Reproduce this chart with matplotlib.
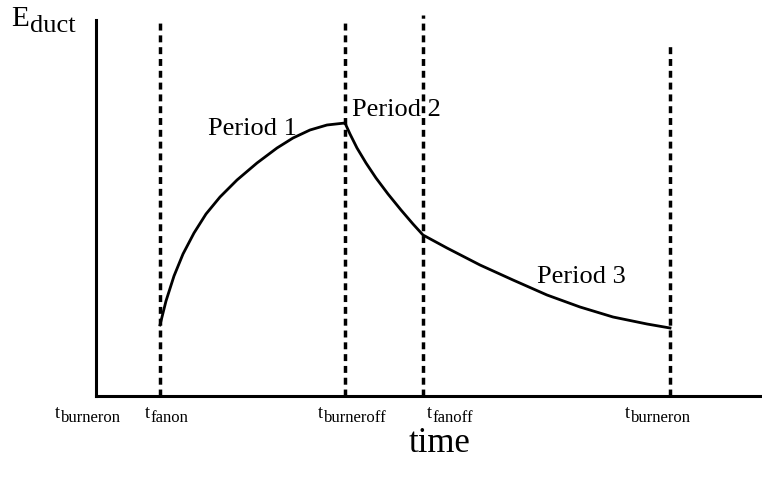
import matplotlib.pyplot as plt
from matplotlib.transforms import offset_copy

plt.rcParams['font.family'] = ['Liberation Serif', 'DejaVu Serif']

# event times (arbitrary units along the time axis)
event_times = [64, 249, 327, 574]
event_tops = [376, 376, 381, 351]

# duct energy
p1_t = [64, 70, 78, 87, 98, 110, 124, 141, 161, 181, 197, 214, 231, 249]
p1_e = [71, 95, 120, 142, 163, 182, 199, 216, 233, 248, 258, 266, 271, 273]
p2_t = [249, 254, 261, 270, 280, 292, 305, 317, 327]
p2_e = [273, 262, 248, 233, 218, 202, 186, 172, 161]
p3_t = [327, 351, 384, 417, 451, 484, 517, 551, 574]
p3_e = [161, 148, 131, 116, 101, 89, 79, 72, 68]

# time labels under the axis: left edge (time units) and subscript
label_x = [-41, 49, 222, 331, 529]
label_sub = ['burneron', 'fanon', 'burneroff', 'fanoff', 'burneron']

W, H = 762, 478
fig = plt.figure(figsize=(W / 100, H / 100), dpi=100)
ax = fig.add_axes([96 / W, 82 / H, 666 / W, 376 / H])
ax.set_xlim(0, 666)
ax.set_ylim(0, 376)
ax.set_xticks([])
ax.set_yticks([])
for s in ['top', 'right']:
    ax.spines[s].set_visible(False)
for s in ['left', 'bottom']:
    ax.spines[s].set_linewidth(2.2)

for t, top in zip(event_times, event_tops):
    ax.plot([t, t], [0, top], color='black', lw=2.5, ls=(0, (2.0, 1.4)),
            clip_on=False)

curve_t = p1_t + p2_t[1:] + p3_t[1:]
curve_e = p1_e + p2_e[1:] + p3_e[1:]
ax.plot(curve_t, curve_e, color='black', lw=2, solid_joinstyle='round')

ax.text(112, 267, 'Period 1', fontsize=19, va='center', ha='left')
ax.text(256, 286, 'Period 2', fontsize=19, va='center', ha='left')
ax.text(441, 119, 'Period 3', fontsize=19, va='center', ha='left')

sub_tr = offset_copy(ax.transData, fig=fig, x=5.5, y=-4, units='dots')
for x, name in zip(label_x, label_sub):
    ax.text(x, -18, 't', fontsize=13, ha='left', va='center', clip_on=False)
    ax.text(x, -18, name, fontsize=12, ha='left', va='center',
            transform=sub_tr, clip_on=False)

fig.text(11 / W, 1 - 19 / H, 'E', fontsize=21, ha='left', va='center')
fig.text(30 / W, 1 - 26 / H, 'duct', fontsize=19, ha='left', va='center')
fig.text(440 / W, 1 - 444 / H, 'time', fontsize=25, ha='center', va='center')

fig.savefig('out.png', dpi=100)
